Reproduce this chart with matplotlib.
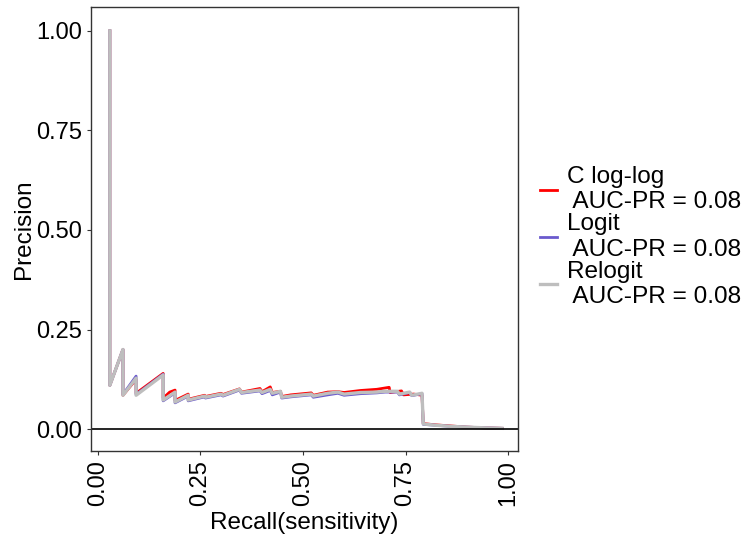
import numpy as np
import matplotlib
matplotlib.use("Agg")
import matplotlib.pyplot as plt

plt.rcParams['font.family'] = ['Liberation Sans', 'DejaVu Sans']

# recall / precision
rec_relogit = [0.029, 0.029, 0.061, 0.061, 0.093, 0.093, 0.159, 0.159, 0.188, 0.188,
               0.220, 0.220, 0.260, 0.262, 0.300, 0.305, 0.345, 0.350, 0.395, 0.400,
               0.420, 0.425, 0.445, 0.448, 0.470, 0.490, 0.520, 0.525, 0.560, 0.585,
               0.600, 0.640, 0.680, 0.700, 0.730, 0.735, 0.760, 0.765, 0.790, 0.793,
               0.820, 0.860, 0.900, 0.950, 0.985]
prec_relogit = [1.000, 0.110, 0.200, 0.085, 0.128, 0.085, 0.136, 0.073, 0.093, 0.068,
                0.085, 0.073, 0.083, 0.080, 0.088, 0.085, 0.100, 0.092, 0.098, 0.092,
                0.100, 0.090, 0.095, 0.080, 0.083, 0.085, 0.088, 0.083, 0.090, 0.093,
                0.088, 0.092, 0.093, 0.095, 0.095, 0.088, 0.093, 0.085, 0.090, 0.013,
                0.010, 0.007, 0.005, 0.003, 0.002]

rec_cloglog = [0.029, 0.029, 0.061, 0.061, 0.093, 0.093, 0.159, 0.159, 0.175, 0.188,
               0.188, 0.220, 0.220, 0.260, 0.262, 0.300, 0.305, 0.345, 0.350, 0.395,
               0.400, 0.420, 0.425, 0.445, 0.448, 0.470, 0.490, 0.520, 0.525, 0.560,
               0.585, 0.600, 0.640, 0.680, 0.710, 0.712, 0.740, 0.745, 0.770, 0.790,
               0.793, 0.820, 0.860, 0.900, 0.950, 0.985]
prec_cloglog = [1.000, 0.110, 0.200, 0.085, 0.125, 0.090, 0.140, 0.078, 0.093, 0.098,
                0.072, 0.088, 0.075, 0.085, 0.082, 0.090, 0.087, 0.101, 0.093, 0.102,
                0.094, 0.106, 0.092, 0.095, 0.082, 0.086, 0.088, 0.091, 0.085, 0.093,
                0.094, 0.092, 0.097, 0.100, 0.105, 0.092, 0.096, 0.086, 0.088, 0.085,
                0.014, 0.011, 0.008, 0.005, 0.003, 0.002]

rec_logit = [0.029, 0.029, 0.061, 0.061, 0.093, 0.093, 0.159, 0.159, 0.188, 0.188,
             0.220, 0.220, 0.260, 0.262, 0.300, 0.305, 0.345, 0.350, 0.395, 0.400,
             0.420, 0.425, 0.445, 0.448, 0.470, 0.490, 0.520, 0.525, 0.560, 0.585,
             0.600, 0.640, 0.680, 0.700, 0.730, 0.735, 0.760, 0.765, 0.790, 0.793,
             0.820, 0.860, 0.900, 0.950, 0.985]
prec_logit = [1.000, 0.110, 0.200, 0.087, 0.133, 0.087, 0.138, 0.071, 0.091, 0.066,
              0.083, 0.071, 0.081, 0.078, 0.086, 0.083, 0.098, 0.090, 0.096, 0.089,
              0.097, 0.086, 0.093, 0.078, 0.081, 0.083, 0.086, 0.080, 0.086, 0.090,
              0.085, 0.089, 0.091, 0.093, 0.093, 0.086, 0.092, 0.084, 0.089, 0.012,
              0.010, 0.007, 0.005, 0.003, 0.002]

labels = ["C log-log\n AUC-PR = 0.08", "Logit\n AUC-PR = 0.08", "Relogit\n AUC-PR = 0.08"]
colors = ["#FF0000", "#6A5ACD", "#BEBEBE"]
xticks = [0.0, 0.25, 0.5, 0.75, 1.0]
yticks = [0.0, 0.25, 0.5, 0.75, 1.0]

fig = plt.figure(figsize=(7.45, 5.37), dpi=100)
ax = fig.add_axes([0.1221, 0.1601, 0.5732, 0.8269])

ax.plot(rec_cloglog, prec_cloglog, color=colors[0], lw=2.0, label=labels[0])
ax.plot(rec_logit, prec_logit, color=colors[1], lw=2.0, label=labels[1])
ax.plot(rec_relogit, prec_relogit, color=colors[2], lw=2.4, label=labels[2])
ax.axhline(0, color="black", lw=1.2)

ax.set_xlim(-0.017, 1.024)
ax.set_ylim(-0.055, 1.06)
ax.set_xticks(xticks)
ax.set_xticklabels(["%.2f" % v for v in xticks], rotation=90)
ax.set_yticks(yticks)
ax.set_yticklabels(["%.2f" % v for v in yticks])
ax.tick_params(labelsize=17, length=3, color="#333333", labelcolor="black")
for s in ax.spines.values():
    s.set_color("#333333")
    s.set_linewidth(1.0)

ax.set_xlabel("Recall(sensitivity)", fontsize=17.5, labelpad=4)
ax.set_ylabel("Precision", fontsize=17.5, labelpad=1)

leg = ax.legend(loc="center left", bbox_to_anchor=(1.028, 0.482), frameon=False,
                fontsize=17.6, handlelength=0.7, handletextpad=0.4, labelspacing=0.0,
                borderaxespad=0)
for t in leg.get_texts():
    t.set_linespacing(1.2)

fig.savefig("out.png", dpi=100)
